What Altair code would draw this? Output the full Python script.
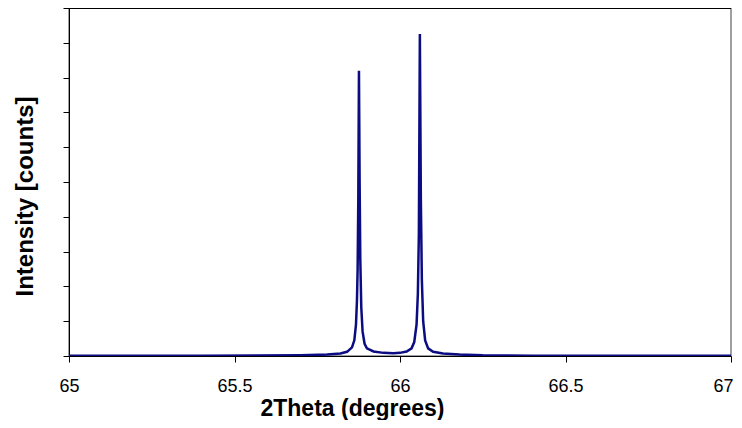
import altair as alt
import pandas as pd

# 2Theta positions (degrees) and intensities
two_theta = [65.00, 65.40, 65.70, 65.78, 65.82, 65.84, 65.855, 65.862, 65.867, 65.870,
             65.872, 65.874, 65.876, 65.878, 65.880, 65.883, 65.887, 65.893, 65.900,
             65.920, 65.950, 65.980, 66.000, 66.020, 66.035, 66.043, 66.050, 66.054,
             66.057, 66.060, 66.063, 66.066, 66.070, 66.076, 66.085, 66.100, 66.130,
             66.180, 66.250, 66.400, 67.000]
intensity = [5, 8, 20, 40, 70, 120, 250, 450, 900, 1600,
             2500, 4500, 8200, 5000, 2800, 1400, 700, 350, 220,
             130, 90, 80, 90, 130, 220, 400, 900, 1800,
             3500, 9250, 4500, 2200, 1000, 450, 220, 120, 70,
             40, 20, 10, 5]

x_ticks = [65, 65.5, 66, 66.5, 67]
y_ticks = [0, 1000, 2000, 3000, 4000, 5000, 6000, 7000, 8000, 9000, 10000]

df = pd.DataFrame({"two_theta": two_theta, "intensity": intensity})

FONT = "Liberation Sans"

line = alt.Chart(df).mark_line(color="#0b0b82", strokeWidth=2.5, clip=True).encode(
    x=alt.X(
        "two_theta:Q",
        scale=alt.Scale(domain=[65, 67], nice=False, zero=False),
        axis=alt.Axis(
            values=x_ticks,
            format="~g",
            title="2Theta (degrees)",
            titleFont=FONT,
            titleFontSize=23,
            titleFontWeight="bold",
            titleColor="black",
            titleX=283,
            titleY=59,
            titleAlign="center",
            titleBaseline="alphabetic",
            labelFont=FONT,
            labelFontSize=18,
            labelColor="black",
            labelBaseline="alphabetic",
            labelPadding=29,
            labelFlush=False,
            labelOverlap=False,
            labelAlign=alt.condition("datum.value >= 67", alt.value("right"), alt.value("center")),
            labelOffset=alt.condition("datum.value >= 67", alt.value(2), alt.value(0)),
            tickSize=6,
            tickColor="black",
            domainColor="black",
            grid=False,
        ),
    ),
    y=alt.Y(
        "intensity:Q",
        scale=alt.Scale(domain=[0, 10000], nice=False),
        axis=alt.Axis(
            values=y_ticks,
            labels=False,
            title="Intensity [counts]",
            titleFont=FONT,
            titleFontSize=24,
            titleFontWeight="bold",
            titleColor="black",
            titleAngle=-90,
            titleX=-44,
            titleY=188,
            titleAlign="center",
            titleBaseline="middle",
            tickSize=6,
            tickColor="black",
            domainColor="black",
            grid=False,
        ),
    ),
)

top_rule = alt.Chart(df).mark_rule(color="black", strokeWidth=1).encode(
    x=alt.value(0), x2=alt.value(662), y=alt.value(0)
)

chart = alt.layer(line, top_rule).properties(
    width=662,
    height=348,
    autosize=alt.AutoSizeParams(type="none"),
    padding={"left": 61, "top": 0, "right": 3, "bottom": 64},
).configure_view(stroke="#808080", strokeWidth=1.5)

chart.save("out.html", embed_options={"renderer": "svg", "actions": False})
